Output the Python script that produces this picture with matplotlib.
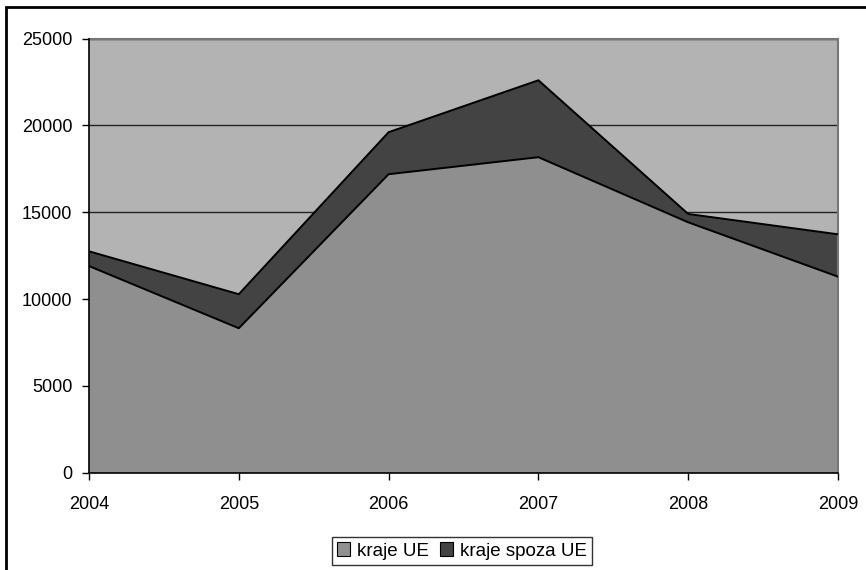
import matplotlib.pyplot as plt
from matplotlib.patches import Rectangle
import numpy as np

plt.rcParams['font.family'] = ['Liberation Sans', 'DejaVu Sans']

##### DATA #####
years = [2004, 2005, 2006, 2007, 2008, 2009]
kraje_ue = [11900, 8320, 17190, 18170, 14420, 11290]
kraje_spoza_ue = [850, 1960, 2420, 4430, 480, 2440]
labels = ["kraje UE", "kraje spoza UE"]
y_ticks = [0, 5000, 10000, 15000, 20000, 25000]
################

fig = plt.figure(figsize=(8.66, 5.70), dpi=100)
ax = fig.add_axes([89 / 866, 1 - 472.7 / 570, (838 - 89) / 866, (472.7 - 38.6) / 570])

x = np.arange(len(years))
ue = np.array(kraje_ue)
total = ue + np.array(kraje_spoza_ue)

ax.set_facecolor("#b3b3b3")
ax.fill_between(x, 0, ue, facecolor="#8f8f8f", edgecolor="none", label=labels[0], zorder=2)
ax.fill_between(x, ue, total, facecolor="#434343", edgecolor="none", label=labels[1], zorder=2)
ax.plot(x, ue, color="black", lw=1.4, zorder=3)
ax.plot(x, total, color="black", lw=1.4, zorder=3)

ax.set_xlim(0, len(years) - 1)
ax.set_ylim(0, 25000)
ax.set_xticks(x)
ax.set_xticklabels([str(y) for y in years])
ax.set_yticks(y_ticks)
ax.yaxis.grid(True, color="#222222", lw=1.0, zorder=1)
ax.set_axisbelow(True)
ax.tick_params(axis="both", labelsize=13, length=5, width=1, direction="out")
ax.tick_params(axis="x", pad=12)
ax.tick_params(axis="y", pad=7)

for side in ["top", "right"]:
    ax.spines[side].set_color("#777777")
    ax.spines[side].set_linewidth(1.5)
for side in ["left", "bottom"]:
    ax.spines[side].set_color("black")
    ax.spines[side].set_linewidth(1.2)
    ax.spines[side].set_zorder(4)

leg = fig.legend(loc="center", bbox_to_anchor=(462 / 866, 1 - 551 / 570), ncol=2,
                 fontsize=13.5, frameon=True, fancybox=False, shadow=False,
                 handlelength=0.7, handleheight=0.7, handletextpad=0.35,
                 columnspacing=0.6, borderpad=0.3, borderaxespad=0)
leg.get_frame().set_edgecolor("black")
leg.get_frame().set_linewidth(1.0)
for h in leg.legend_handles:
    h.set_edgecolor("black")
    h.set_linewidth(0.8)

# outer frame of the chart
fig.patches.append(Rectangle((6 / 866, -0.05), 1.1, 1 - 7 / 570 + 0.05,
                             transform=fig.transFigure, fill=False,
                             edgecolor="black", lw=2, zorder=0))

plt.savefig("out.png", dpi=100)
